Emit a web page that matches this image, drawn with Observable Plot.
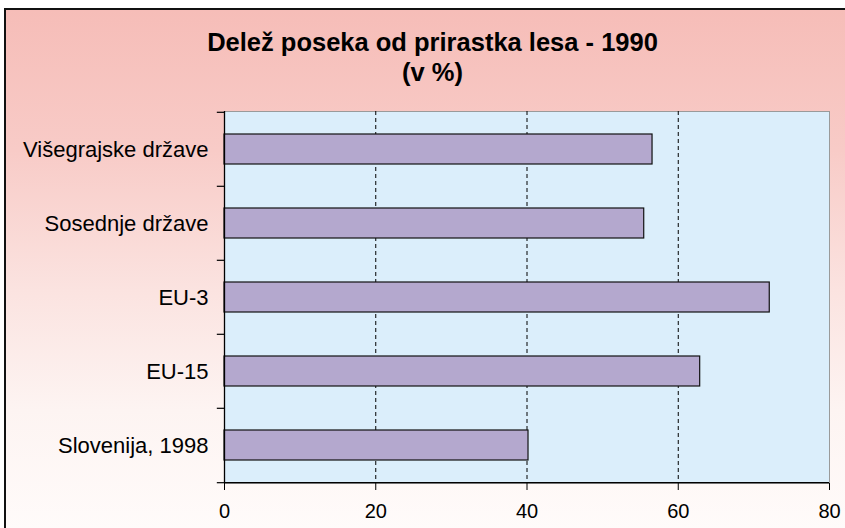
<!DOCTYPE html>
<html>
<head>
<meta charset="utf-8">
<script src="https://cdn.jsdelivr.net/npm/d3@7"></script>
<script src="https://cdn.jsdelivr.net/npm/@observablehq/plot@0.6"></script>
<style>
  html, body { margin: 0; padding: 0; background: #fff; }
  #page { position: relative; width: 845px; height: 528px; overflow: hidden; font-family: "Liberation Sans", Arial, sans-serif; }
  #frame { position: absolute; left: 4px; top: 8px; width: 900px; height: 600px; border: 2px solid #111;
    background: linear-gradient(to bottom, #f6bdb8 0px, #f8cbc7 140px, #fbe3e0 280px, #fdf4f2 400px, #fffbfa 520px); }
  .title { position: absolute; left: 0; width: 865px; text-align: center; font-weight: bold; font-size: 25.5px; line-height: 29px; color: #000; }
  #chart { position: absolute; left: 0; top: 100px; }
</style>
</head>
<body>
<div id="page">
  <div id="frame"></div>
  <div class="title" style="top:28px">Delež poseka od prirastka lesa - 1990</div>
  <div class="title" style="top:58px">(v %)</div>
  <div id="chart"></div>
</div>
<script>
const categories = ["Višegrajske države", "Sosednje države", "EU-3", "EU-15", "Slovenija, 1998"];
const values = [56.6, 55.5, 72.1, 62.9, 40.2];
const xTicks = [0, 20, 40, 60, 80];
const gridTicks = [20, 40, 60];

const data = categories.map((c, i) => ({category: c, value: values[i]}));

const W = 845, H = 428, mt = 11, mb = 45, ml = 224, mr = 16;
const step = (H - mt - mb) / categories.length;

const chart = Plot.plot({
  width: W,
  height: H,
  marginTop: mt,
  marginBottom: mb,
  marginLeft: ml,
  marginRight: mr,
  style: {fontFamily: "Liberation Sans, Arial, sans-serif", background: "transparent", overflow: "visible"},
  x: {domain: [0, 80]},
  y: {domain: categories, paddingInner: 0.6, paddingOuter: 0.3},
  marks: [
    Plot.frame({fill: "#dbeefb", stroke: "#9a9a9a", strokeWidth: 1}),
    Plot.ruleX(gridTicks, {stroke: "#000", strokeWidth: 1, strokeDasharray: "4,3"}),
    Plot.barX(data, {x: "value", y: "category", fill: "#b4a8ce", stroke: "#111", strokeWidth: 1.2}),
    Plot.ruleX([0], {stroke: "#000", strokeWidth: 1.3}),
    Plot.ruleY([categories[categories.length - 1]], {x1: 0, x2: 80, dy: step / 2, stroke: "#000", strokeWidth: 1.3}),
    Plot.ruleY(categories, {x1: -0.95, x2: 0, dy: -step / 2, stroke: "#000", strokeWidth: 1.2}),
    Plot.ruleY([categories[categories.length - 1]], {x1: -0.95, x2: 0, dy: step / 2, stroke: "#000", strokeWidth: 1.2}),
    Plot.axisY({tickSize: 0, tickPadding: 16, fontSize: 22, color: "#000", label: null}),
    Plot.axisX({ticks: xTicks, tickSize: 7, tickPadding: 13, fontSize: 20, color: "#000", label: null, tickFormat: d => String(d)})
  ]
});
document.getElementById("chart").appendChild(chart);
</script>
</body>
</html>
